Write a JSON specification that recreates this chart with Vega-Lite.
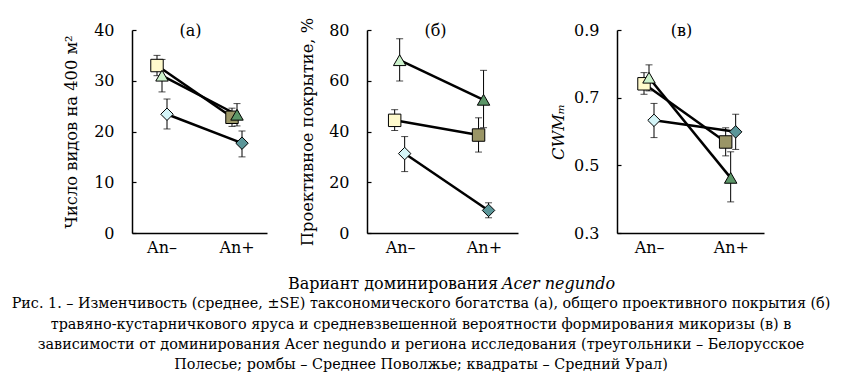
{
  "$schema": "https://vega.github.io/schema/vega-lite/v6.json",
  "padding": {"left": 11, "top": 17, "right": 0, "bottom": 0},
  "background": "white",
  "config": {
    "view": {"stroke": null},
    "font": "DejaVu Serif",
    "axis": {
      "grid": false,
      "labelFont": "DejaVu Serif",
      "labelFontSize": 16,
      "labelColor": "black",
      "titleFont": "DejaVu Serif",
      "titleFontSize": 16.3,
      "titleFontWeight": "normal",
      "titleColor": "black",
      "domainColor": "black",
      "domainWidth": 1.5,
      "tickColor": "black",
      "tickWidth": 1.2
    },
    "text": {"font": "DejaVu Serif", "color": "black"}
  },
  "datasets": {
    "pts": [
      {"panel": "a", "region": "Средний Урал", "dom": "An–", "mean": 33.0, "lo": 31.0, "hi": 35.0},
      {"panel": "a", "region": "Средний Урал", "dom": "An+", "mean": 22.8, "lo": 21.0, "hi": 24.6},
      {"panel": "a", "region": "Среднее Поволжье", "dom": "An–", "mean": 23.4, "lo": 20.5, "hi": 26.4},
      {"panel": "a", "region": "Среднее Поволжье", "dom": "An+", "mean": 17.7, "lo": 15.0, "hi": 20.1},
      {"panel": "a", "region": "Белорусское Полесье", "dom": "An–", "mean": 31.0, "lo": 27.8, "hi": 34.2},
      {"panel": "a", "region": "Белорусское Полесье", "dom": "An+", "mean": 23.3, "lo": 21.1, "hi": 25.5},
      {"panel": "b", "region": "Средний Урал", "dom": "An–", "mean": 44.4, "lo": 40.4, "hi": 48.6},
      {"panel": "b", "region": "Средний Урал", "dom": "An+", "mean": 38.6, "lo": 31.9, "hi": 45.4},
      {"panel": "b", "region": "Среднее Поволжье", "dom": "An–", "mean": 31.3, "lo": 24.2, "hi": 38.0},
      {"panel": "b", "region": "Среднее Поволжье", "dom": "An+", "mean": 8.9, "lo": 6.0, "hi": 11.9},
      {"panel": "b", "region": "Белорусское Полесье", "dom": "An–", "mean": 68.1, "lo": 59.9, "hi": 76.6},
      {"panel": "b", "region": "Белорусское Полесье", "dom": "An+", "mean": 52.5, "lo": 41.5, "hi": 64.1},
      {"panel": "c", "region": "Средний Урал", "dom": "An–", "mean": 0.741, "lo": 0.710, "hi": 0.774},
      {"panel": "c", "region": "Средний Урал", "dom": "An+", "mean": 0.569, "lo": 0.528, "hi": 0.611},
      {"panel": "c", "region": "Среднее Поволжье", "dom": "An–", "mean": 0.633, "lo": 0.582, "hi": 0.683},
      {"panel": "c", "region": "Среднее Поволжье", "dom": "An+", "mean": 0.599, "lo": 0.547, "hi": 0.651},
      {"panel": "c", "region": "Белорусское Полесье", "dom": "An–", "mean": 0.759, "lo": 0.720, "hi": 0.797},
      {"panel": "c", "region": "Белорусское Полесье", "dom": "An+", "mean": 0.463, "lo": 0.392, "hi": 0.540}
    ]
  },
  "vconcat": [
    {
      "hconcat": [
        {
          "width": 135, "height": 203,
          "layer": [
            {
              "data": {"name": "pts"},
              "transform": [{"filter": "datum.panel === 'a'"}],
              "encoding": {
                "x": {"field": "dom", "type": "nominal", "sort": ["An–", "An+"], "scale": {"paddingInner": 0.8, "paddingOuter": 0.3}, "axis": {"title": null, "labelAngle": 0, "ticks": false, "labelPadding": 6}},
                "xOffset": {"field": "region", "type": "nominal", "sort": ["Средний Урал", "Белорусское Полесье", "Среднее Поволжье"], "scale": {"paddingInner": 0, "paddingOuter": 0}}
              },
              "layer": [
                {"mark": {"type": "line", "color": "black", "strokeWidth": 2.5}, "encoding": {"y": {"field": "mean", "type": "quantitative", "scale": {"domain": [0, 40], "nice": false}, "axis": {"title": "Число видов на 400 м²", "values": [0, 10, 20, 30, 40], "tickSize": -4, "labelPadding": 22, "titlePadding": 14}}, "detail": {"field": "region"}}},
                {"mark": {"type": "rule", "color": "black", "strokeWidth": 1}, "encoding": {"y": {"field": "lo", "type": "quantitative"}, "y2": {"field": "hi"}}},
                {"mark": {"type": "tick", "color": "black", "thickness": 1, "size": 7}, "encoding": {"y": {"field": "lo", "type": "quantitative"}}},
                {"mark": {"type": "tick", "color": "black", "thickness": 1, "size": 7}, "encoding": {"y": {"field": "hi", "type": "quantitative"}}},
                {"layer": [
                  {"transform": [{"filter": "datum.dom === 'An–'"}], "mark": {"type": "point", "filled": true, "opacity": 1, "stroke": "black", "strokeWidth": 1, "size": 155},
                   "encoding": {"y": {"field": "mean", "type": "quantitative"}, "shape": {"field": "region", "type": "nominal", "scale": {"domain": ["Средний Урал", "Белорусское Полесье", "Среднее Поволжье"], "range": ["square", "triangle-up", "diamond"]}, "legend": null}, "fill": {"field": "region", "type": "nominal", "scale": {"domain": ["Средний Урал", "Белорусское Полесье", "Среднее Поволжье"], "range": ["#FFFACC", "#CCF2CC", "#D4F5F8"]}, "legend": null}}},
                  {"transform": [{"filter": "datum.dom === 'An+'"}], "mark": {"type": "point", "filled": true, "opacity": 1, "stroke": "black", "strokeWidth": 1, "size": 155},
                   "encoding": {"y": {"field": "mean", "type": "quantitative"}, "shape": {"field": "region", "type": "nominal", "legend": null}, "fill": {"field": "region", "type": "nominal", "scale": {"domain": ["Средний Урал", "Белорусское Полесье", "Среднее Поволжье"], "range": ["#9A9566", "#5C9668", "#5B9699"]}, "legend": null}}}
                ], "resolve": {"scale": {"fill": "independent"}}}
              ]
            },
            {"data": {"values": [{"label": "(а)"}]}, "mark": {"type": "text", "fontSize": 16, "dx": -9, "dy": 1, "baseline": "middle"}, "encoding": {"y": {"datum": 40}, "text": {"field": "label"}}}
          ]
        },
        {
          "width": 151, "height": 203,
          "layer": [
            {
              "data": {"name": "pts"},
              "transform": [{"filter": "datum.panel === 'b'"}],
              "encoding": {
                "x": {"field": "dom", "type": "nominal", "sort": ["An–", "An+"], "scale": {"paddingInner": 0.8, "paddingOuter": 0.3}, "axis": {"title": null, "labelAngle": 0, "ticks": false, "labelPadding": 6}},
                "xOffset": {"field": "region", "type": "nominal", "sort": ["Средний Урал", "Белорусское Полесье", "Среднее Поволжье"], "scale": {"paddingInner": 0, "paddingOuter": 0}}
              },
              "layer": [
                {"mark": {"type": "line", "color": "black", "strokeWidth": 2.5}, "encoding": {"y": {"field": "mean", "type": "quantitative", "scale": {"domain": [0, 80], "nice": false}, "axis": {"title": "Проективное покрытие, %", "values": [0, 20, 40, 60, 80], "tickSize": -4, "labelPadding": 22, "titlePadding": 13}}, "detail": {"field": "region"}}},
                {"mark": {"type": "rule", "color": "black", "strokeWidth": 1}, "encoding": {"y": {"field": "lo", "type": "quantitative"}, "y2": {"field": "hi"}}},
                {"mark": {"type": "tick", "color": "black", "thickness": 1, "size": 7}, "encoding": {"y": {"field": "lo", "type": "quantitative"}}},
                {"mark": {"type": "tick", "color": "black", "thickness": 1, "size": 7}, "encoding": {"y": {"field": "hi", "type": "quantitative"}}},
                {"layer": [
                  {"transform": [{"filter": "datum.dom === 'An–'"}], "mark": {"type": "point", "filled": true, "opacity": 1, "stroke": "black", "strokeWidth": 1, "size": 155},
                   "encoding": {"y": {"field": "mean", "type": "quantitative"}, "shape": {"field": "region", "type": "nominal", "scale": {"domain": ["Средний Урал", "Белорусское Полесье", "Среднее Поволжье"], "range": ["square", "triangle-up", "diamond"]}, "legend": null}, "fill": {"field": "region", "type": "nominal", "scale": {"domain": ["Средний Урал", "Белорусское Полесье", "Среднее Поволжье"], "range": ["#FFFACC", "#CCF2CC", "#D4F5F8"]}, "legend": null}}},
                  {"transform": [{"filter": "datum.dom === 'An+'"}], "mark": {"type": "point", "filled": true, "opacity": 1, "stroke": "black", "strokeWidth": 1, "size": 155},
                   "encoding": {"y": {"field": "mean", "type": "quantitative"}, "shape": {"field": "region", "type": "nominal", "legend": null}, "fill": {"field": "region", "type": "nominal", "scale": {"domain": ["Средний Урал", "Белорусское Полесье", "Среднее Поволжье"], "range": ["#9A9566", "#5C9668", "#5B9699"]}, "legend": null}}}
                ], "resolve": {"scale": {"fill": "independent"}}}
              ]
            },
            {"data": {"values": [{"label": "(б)"}]}, "mark": {"type": "text", "fontSize": 16, "dx": -7, "dy": 1, "baseline": "middle"}, "encoding": {"y": {"datum": 80}, "text": {"field": "label"}}}
          ]
        },
        {
          "width": 147, "height": 203,
          "layer": [
            {
              "data": {"name": "pts"},
              "transform": [{"filter": "datum.panel === 'c'"}],
              "encoding": {
                "x": {"field": "dom", "type": "nominal", "sort": ["An–", "An+"], "scale": {"paddingInner": 0.8, "paddingOuter": 0.3}, "axis": {"title": null, "labelAngle": 0, "ticks": false, "labelPadding": 6}},
                "xOffset": {"field": "region", "type": "nominal", "sort": ["Средний Урал", "Белорусское Полесье", "Среднее Поволжье"], "scale": {"paddingInner": 0, "paddingOuter": 0}}
              },
              "layer": [
                {"mark": {"type": "line", "color": "black", "strokeWidth": 2.5}, "encoding": {"y": {"field": "mean", "type": "quantitative", "scale": {"domain": [0.3, 0.9], "nice": false, "zero": false}, "axis": {"title": "CWMₘ", "titleFontStyle": "italic", "values": [0.3, 0.5, 0.7, 0.9], "format": ".1f", "tickSize": -4, "labelPadding": 22, "titlePadding": 7}}, "detail": {"field": "region"}}},
                {"mark": {"type": "rule", "color": "black", "strokeWidth": 1}, "encoding": {"y": {"field": "lo", "type": "quantitative"}, "y2": {"field": "hi"}}},
                {"mark": {"type": "tick", "color": "black", "thickness": 1, "size": 7}, "encoding": {"y": {"field": "lo", "type": "quantitative"}}},
                {"mark": {"type": "tick", "color": "black", "thickness": 1, "size": 7}, "encoding": {"y": {"field": "hi", "type": "quantitative"}}},
                {"layer": [
                  {"transform": [{"filter": "datum.dom === 'An–'"}], "mark": {"type": "point", "filled": true, "opacity": 1, "stroke": "black", "strokeWidth": 1, "size": 155},
                   "encoding": {"y": {"field": "mean", "type": "quantitative"}, "shape": {"field": "region", "type": "nominal", "scale": {"domain": ["Средний Урал", "Белорусское Полесье", "Среднее Поволжье"], "range": ["square", "triangle-up", "diamond"]}, "legend": null}, "fill": {"field": "region", "type": "nominal", "scale": {"domain": ["Средний Урал", "Белорусское Полесье", "Среднее Поволжье"], "range": ["#FFFACC", "#CCF2CC", "#D4F5F8"]}, "legend": null}}},
                  {"transform": [{"filter": "datum.dom === 'An+'"}], "mark": {"type": "point", "filled": true, "opacity": 1, "stroke": "black", "strokeWidth": 1, "size": 155},
                   "encoding": {"y": {"field": "mean", "type": "quantitative"}, "shape": {"field": "region", "type": "nominal", "legend": null}, "fill": {"field": "region", "type": "nominal", "scale": {"domain": ["Средний Урал", "Белорусское Полесье", "Среднее Поволжье"], "range": ["#9A9566", "#5C9668", "#5B9699"]}, "legend": null}}}
                ], "resolve": {"scale": {"fill": "independent"}}}
              ]
            },
            {"data": {"values": [{"label": "(в)"}]}, "mark": {"type": "text", "fontSize": 16, "dx": -9, "dy": 1, "baseline": "middle"}, "encoding": {"y": {"datum": 0.9}, "text": {"field": "label"}}}
          ]
        }
      ],
      "spacing": 32
    },
    {
      "width": 578, "height": 101,
      "layer": [
        {"data": {"values": [
          {"line": 2, "text": "Рис. 1. – Изменчивость (среднее, ±SE) таксономического богатства (а), общего проективного покрытия (б)"},
          {"line": 3, "text": "травяно-кустарничкового яруса и средневзвешенной вероятности формирования микоризы (в) в"},
          {"line": 4, "text": "зависимости от доминирования Acer negundo и региона исследования (треугольники – Белорусское"},
          {"line": 5, "text": "Полесье; ромбы – Среднее Поволжье; квадраты – Средний Урал)"}
         ]},
         "mark": {"type": "text", "fontSize": 14.35},
         "encoding": {"y": {"field": "line", "type": "ordinal", "axis": null, "scale": {"type": "point", "padding": 0.5}}, "text": {"field": "text"}}},
        {"data": {"values": [{"line": 1, "text": "Вариант доминирования"}]},
         "mark": {"type": "text", "fontSize": 16, "align": "right", "dx": 77},
         "encoding": {"y": {"field": "line", "type": "ordinal", "axis": null}, "text": {"field": "text"}}},
        {"data": {"values": [{"line": 1, "text": "Acer negundo"}]},
         "mark": {"type": "text", "fontSize": 16, "fontStyle": "italic", "align": "left", "dx": 81},
         "encoding": {"y": {"field": "line", "type": "ordinal", "axis": null}, "text": {"field": "text"}}}
      ]
    }
  ],
  "spacing": 19
}
